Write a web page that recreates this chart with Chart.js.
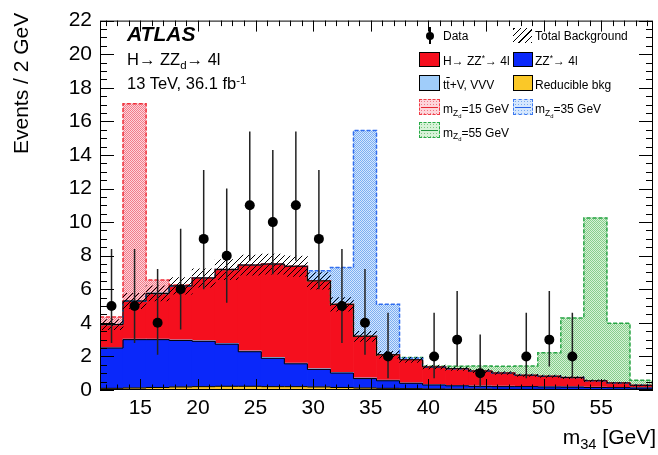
<!DOCTYPE html>
<html>
<head>
<meta charset="utf-8">
<script src="https://cdn.jsdelivr.net/npm/chart.js@4.4.1/dist/chart.umd.min.js"></script>
<style>
body { margin: 0; background: #fff; font-family: "Liberation Sans", Arial, sans-serif; }
#wrap { position: relative; width: 658px; height: 455px; overflow: hidden; }
canvas { position: absolute; left: 0; top: 0; }
.t { position: absolute; white-space: nowrap; color: #000; line-height: 1; }
.sub { font-size: 0.7em; position: relative; top: 0.35em; }
.sup { font-size: 0.7em; position: relative; top: -0.45em; }
.lg { font-size: 12px; }
.box { position: absolute; box-sizing: border-box; }
</style>
</head>
<body>
<div id="wrap">
<canvas id="c" width="658" height="455"></canvas>

<div class="t" id="ytitle" style="font-size:21px; left:0; top:0; transform-origin:0 0;">Events / 2 GeV</div>
<div class="t" style="font-size:21px; right:2px; top:426px;">m<span class="sub">34</span> [GeV]</div>

<div class="t" style="font-size:21px; font-weight:bold; font-style:italic; left:127px; top:23px;">ATLAS</div>
<div class="t" style="font-size:16.5px; left:127px; top:51px;">H&rarr; ZZ<span class="sub">d</span>&rarr; 4l</div>
<div class="t" style="font-size:16.5px; left:127px; top:75px;">13 TeV, 36.1 fb<span class="sup">-1</span></div>

<!-- legend -->
<div class="box" style="left:429px; top:27px; width:1.5px; height:17px; background:#000;"></div>
<div class="box" style="left:426px; top:31.5px; width:8px; height:8px; border-radius:50%; background:#000;"></div>
<div class="t lg" style="left:443px; top:30px;">Data</div>
<div class="box" style="left:513px; top:28px; width:19px; height:15px; background:repeating-linear-gradient(-45deg, #000 0 1px, transparent 1px 4.5px);"></div>
<div class="t lg" style="left:535px; top:30px;">Total Background</div>

<div class="box" style="left:419px; top:52px; width:21px; height:15px; background:rgb(245,15,30); border:1.5px solid #000;"></div>
<div class="t lg" style="left:443px; top:55px;">H&rarr; ZZ<span class="sup">*</span>&rarr; 4l</div>
<div class="box" style="left:513px; top:52px; width:20px; height:15px; background:rgb(10,40,250); border:1.5px solid #000;"></div>
<div class="t lg" style="left:535px; top:55px;">ZZ<span class="sup">*</span>&rarr; 4l</div>

<div class="box" style="left:419px; top:75px; width:21px; height:16px; background:rgb(160,205,250); border:1.5px solid #000;"></div>
<div class="t lg" style="left:443px; top:79px;">t<span style="text-decoration:overline">t</span>+V, VVV</div>
<div class="box" style="left:513px; top:75px; width:20px; height:16px; background:rgb(250,200,40); border:1.5px solid #000;"></div>
<div class="t lg" style="left:535px; top:79px;">Reducible bkg</div>

<div class="box" style="left:419px; top:99px; width:21px; height:16px; border:1px dashed rgb(240,60,70); background-color:#fdd6da; background-image:radial-gradient(rgb(240,120,135) 0.7px, transparent 1px); background-size:3px 3px;"><div style="position:absolute; left:1px; right:1px; top:6.5px; height:1px; background:rgb(230,40,50);"></div></div>
<div class="t lg" style="left:443px; top:103px;">m<span class="sub">Z<span class="sub">d</span></span>=15 GeV</div>
<div class="box" style="left:513px; top:99px; width:20px; height:16px; border:1px dashed rgb(60,120,240); background-color:#d6e7fd; background-image:radial-gradient(rgb(120,170,240) 0.7px, transparent 1px); background-size:3px 3px;"><div style="position:absolute; left:1px; right:1px; top:6.5px; height:1px; background:rgb(40,100,230);"></div></div>
<div class="t lg" style="left:535px; top:103px;">m<span class="sub">Z<span class="sub">d</span></span>=35 GeV</div>

<div class="box" style="left:419px; top:122px; width:21px; height:16px; border:1px dashed rgb(40,170,70); background-color:#d8f2d8; background-image:radial-gradient(rgb(125,200,130) 0.7px, transparent 1px); background-size:3px 3px;"><div style="position:absolute; left:1px; right:1px; top:6.5px; height:1px; background:rgb(30,150,60);"></div></div>
<div class="t lg" style="left:443px; top:126.5px;">m<span class="sub">Z<span class="sub">d</span></span>=55 GeV</div>
</div>

<script>
// m34 binning: 24 bins of 2 GeV
var binLow = 11.5
var binWidth = 2

// background components (events / bin)
var reducible = [0.10, 0.12, 0.15, 0.18, 0.20, 0.22, 0.22, 0.20, 0.20, 0.18, 0.15, 0.12, 0.10, 0.08, 0.06, 0.05, 0.05, 0.04, 0.04, 0.04, 0.03, 0.03, 0.03, 0.03]
var zzStar = [2.40, 2.88, 2.85, 2.77, 2.70, 2.51, 2.06, 1.69, 1.36, 1.05, 0.86, 0.56, 0.45, 0.32, 0.24, 0.20, 0.17, 0.16, 0.16, 0.14, 0.14, 0.12, 0.11, 0.09]
var ttV = [0.02, 0.03, 0.03, 0.04, 0.04, 0.05, 0.05, 0.05, 0.05, 0.05, 0.04, 0.04, 0.04, 0.03, 0.03, 0.03, 0.03, 0.03, 0.02, 0.02, 0.02, 0.02, 0.02, 0.02]
var hZZ = [1.38, 2.27, 2.72, 3.21, 3.73, 4.39, 5.11, 5.56, 5.76, 5.22, 4.05, 2.48, 1.51, 1.37, 1.04, 0.99, 0.88, 0.78, 0.66, 0.62, 0.55, 0.38, 0.26, 0.14]
var bkgUnc = [0.30, 0.45, 0.45, 0.50, 0.55, 0.60, 0.60, 0.60, 0.60, 0.50, 0.40, 0.30, 0.20, 0.15, 0.12, 0.10, 0.10, 0.08, 0.07, 0.07, 0.06, 0.05, 0.04, 0.03]

// signal excess on top of the total background
var sig15 = [0.45, 11.75, 0.80, 0.05, 0, 0, 0, 0, 0, 0, 0, 0, 0, 0, 0, 0, 0, 0, 0, 0, 0, 0, 0, 0]
var sig35 = [0, 0, 0, 0, 0, 0, 0, 0, 0, 0.60, 2.20, 12.25, 3.00, 0.10, 0, 0, 0, 0, 0, 0, 0, 0, 0, 0]
var sig55 = [0, 0, 0, 0, 0, 0, 0, 0, 0, 0, 0, 0, 0, 0.13, 0.05, 0.15, 0.30, 0.40, 0.55, 1.40, 3.55, 9.70, 3.55, 0.30]

// data with asymmetric errors (null = no entry)
var dataCounts = [5, 5, 4, 6, 9, 8, 11, 10, 11, 9, 5, 4, 2, null, 2, 3, 1, null, 2, 3, 2, null, null, null]
var errLow = [2.8, 2.8, 2.1, 3.6, 6.0, 5.2, 7.7, 6.9, 7.7, 6.0, 2.8, 2.1, 0.7, null, 0.7, 1.4, 0.17, null, 0.7, 1.4, 0.7, null, null, null]
var errHigh = [8.4, 8.4, 7.2, 9.6, 13.1, 12.0, 15.4, 14.3, 15.4, 13.1, 8.4, 7.2, 4.6, null, 4.6, 5.9, 3.3, null, 4.6, 5.9, 4.6, null, null, null]

var xTicks = [15, 20, 25, 30, 35, 40, 45, 50, 55]
var yTicks = [0, 2, 4, 6, 8, 10, 12, 14, 16, 18, 20, 22]

var canvas = document.getElementById("c")
var ctx = canvas.getContext("2d")

var centers = reducible.map(function(v, i) { return binLow + binWidth * (i + 0.5) })

function cum(a, b) { return a.map(function(v, i) { return v + b[i] }) }
var top1 = reducible.slice()
var top2 = cum(top1, zzStar)
var top3 = cum(top2, ttV)
var total = cum(top3, hZZ)

function floating(lo, hi) {
  var out = []
  for (var i = 0; i < lo.length; i++) {
    if (lo[i] == null || hi[i] == null) continue
    out.push({ x: centers[i], y: [lo[i], hi[i]] })
  }
  return out
}

function stepData(arr) {
  var pts = arr.map(function(v, i) { return { x: binLow + binWidth * i, y: v } })
  pts.push({ x: binLow + binWidth * arr.length, y: arr[arr.length - 1] })
  return pts
}

function hatchPattern() {
  var c = document.createElement("canvas")
  c.width = 6; c.height = 6
  var g = c.getContext("2d")
  g.strokeStyle = "#000"
  g.lineWidth = 1
  g.beginPath()
  g.moveTo(0, 6); g.lineTo(6, 0)
  g.moveTo(-1, 1); g.lineTo(1, -1)
  g.moveTo(5, 7); g.lineTo(7, 5)
  g.stroke()
  return ctx.createPattern(c, "repeat")
}

// checkerboard-ish dotted fill like the ROOT fill styles
function dotPattern(bg, fg) {
  var c = document.createElement("canvas")
  c.width = 2; c.height = 2
  var g = c.getContext("2d")
  g.fillStyle = bg
  g.fillRect(0, 0, 2, 2)
  g.fillStyle = fg
  g.fillRect(0, 0, 1, 1)
  g.fillRect(1, 1, 1, 1)
  return ctx.createPattern(c, "repeat")
}

function sigTop(sig) { return total.map(function(v, i) { return v + sig[i] }) }

var stepLine = function(arr, order) {
  return { type: "line", data: stepData(arr), stepped: true, borderColor: "#000", borderWidth: 1, pointRadius: 0, fill: false, order: order }
}
var sigLine = function(sig, color) {
  return { type: "line", data: stepData(sigTop(sig)), stepped: true, borderColor: color, borderWidth: 1.5, borderDash: [4, 2], pointRadius: 0, fill: false, order: 8 }
}

var frame = {
  id: "frame",
  afterDraw: function(chart) {
    var c = chart.ctx, a = chart.chartArea, xs = chart.scales.x, ys = chart.scales.y
    c.save()
    c.strokeStyle = "#000"
    c.lineWidth = 1
    c.strokeRect(a.left + 0.5, a.top + 0.5, a.right - a.left - 1, a.bottom - a.top - 1)
    c.beginPath()
    for (var v = 12; v <= 59; v++) {
      var px = Math.round(xs.getPixelForValue(v)) + 0.5
      var len = v % 5 == 0 ? 11 : 5.5
      c.moveTo(px, a.bottom); c.lineTo(px, a.bottom - len)
      c.moveTo(px, a.top); c.lineTo(px, a.top + len)
    }
    for (var k = 0; k <= 44; k++) {
      var py = Math.round(ys.getPixelForValue(k * 0.5)) + 0.5
      var l2 = k % 4 == 0 ? 14 : 7
      c.moveTo(a.left, py); c.lineTo(a.left + l2, py)
      c.moveTo(a.right, py); c.lineTo(a.right - l2, py)
    }
    c.stroke()
    c.restore()
  }
}

var font = { family: "'Liberation Sans', Arial, sans-serif", size: 21 }

var chart = new Chart(ctx, {
  type: "bar",
  data: {
    datasets: [
      // signals
      { data: floating(total, sigTop(sig15)), backgroundColor: dotPattern("rgb(255,212,218)", "rgb(240,125,140)"), order: 10 },
      { data: floating(total, sigTop(sig35)), backgroundColor: dotPattern("rgb(212,230,255)", "rgb(125,175,240)"), order: 10 },
      { data: floating(total, sigTop(sig55)), backgroundColor: dotPattern("rgb(214,242,214)", "rgb(135,205,140)"), order: 10 },
      sigLine(sig15, "rgb(240,50,60)"),
      sigLine(sig35, "rgb(50,110,240)"),
      sigLine(sig55, "rgb(40,165,70)"),
      // background stack
      { data: floating(reducible.map(function() { return 0 }), top1), backgroundColor: "rgb(250,200,40)", order: 9 },
      { data: floating(top1, top2), backgroundColor: "rgb(10,40,250)", order: 9 },
      { data: floating(top2, top3), backgroundColor: "rgb(160,205,250)", order: 9 },
      { data: floating(top3, total), backgroundColor: "rgb(245,15,30)", order: 9 },
      stepLine(top1, 7),
      stepLine(top2, 7),
      stepLine(total, 7),
      // uncertainty band
      { data: floating(total.map(function(v, i) { return v - bkgUnc[i] }), total.map(function(v, i) { return v + bkgUnc[i] })), backgroundColor: hatchPattern(), order: 6 },
      // data
      { data: floating(errLow, errHigh), backgroundColor: "#222", barThickness: 1.5, inflateAmount: 0, order: 5 },
      {
        type: "line",
        data: dataCounts.map(function(v, i) { return v == null ? null : { x: centers[i], y: v } }).filter(function(p) { return p }),
        showLine: false, pointRadius: 5, pointBackgroundColor: "#000", pointBorderWidth: 0, order: 4
      }
    ]
  },
  options: {
    responsive: false,
    animation: false,
    layout: { padding: { top: 14, right: 2, left: 0, bottom: 0 } },
    datasets: { bar: { grouped: false, barPercentage: 1, categoryPercentage: 1, borderWidth: 0 } },
    plugins: { legend: { display: false }, tooltip: { enabled: false } },
    scales: {
      x: {
        type: "linear", min: 11.5, max: 59.5, offset: false,
        afterBuildTicks: function(s) { s.ticks = xTicks.map(function(v) { return { value: v } }) },
        afterFit: function(s) { s.height = 65 },
        grid: { display: false, drawTicks: false },
        border: { display: false },
        ticks: { font: font, color: "#000", padding: 6, maxRotation: 0 }
      },
      y: {
        min: 0, max: 22,
        afterBuildTicks: function(s) { s.ticks = yTicks.map(function(v) { return { value: v } }) },
        afterFit: function(s) { s.width = 100 },
        grid: { display: false, drawTicks: false },
        border: { display: false },
        ticks: { font: font, color: "#000", padding: 8 }
      }
    }
  },
  plugins: [frame]
})

var yt = document.getElementById("ytitle")
yt.style.transform = "translate(10px, " + (13 + yt.offsetWidth) + "px) rotate(-90deg)"
</script>
</body>
</html>
